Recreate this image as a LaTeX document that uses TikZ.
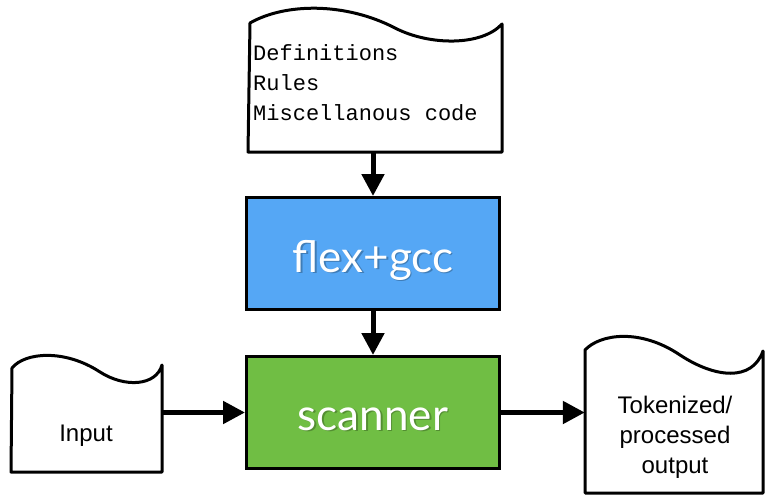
\documentclass[tikz,border=0pt]{standalone}
\usepackage{fontspec}
\setmainfont{Liberation Sans}
\newfontfamily\monof{Liberation Mono}
\newfontfamily\boxf{Lato}
\usetikzlibrary{arrows.meta}
\definecolor{flexblue}{RGB}{85,167,245}
\definecolor{scangreen}{RGB}{112,190,68}
\tikzset{
  docline/.style={line width=3pt, line join=round, fill=white},
  procbox/.style={draw=black, line width=3pt, minimum width=253pt, minimum height=112pt, inner sep=0pt},
  boxtext/.style={text=white, font=\boxf\fontsize{44}{50}\selectfont},
  shadowtext/.style={text=black, opacity=0.25, font=\boxf\fontsize{44}{50}\selectfont},
  codetext/.style={anchor=base west, font=\monof\fontsize{22}{30}\selectfont, inner sep=0pt},
  doctext/.style={anchor=base, font=\fontsize{24}{30}\selectfont, inner sep=0pt},
  arr/.style={line width=5pt, -{Triangle[length=22pt,width=22pt]}},
  ghost/.style={draw=none, inner sep=0pt}
}
\begin{document}
\begin{tikzpicture}[x=1pt,y=-1pt]
\useasboundingbox (0,0) rectangle (766,495);
% top document
\draw[docline] (250,23) .. controls (285,3) and (345,2) .. (395,28) .. controls (430,46) and (482,46) .. (502,24) -- (502,152) -- (248,152) -- cycle;
\node[ghost, minimum width=254pt, minimum height=128pt] (defs) at (375,88) {};
\node[codetext] (defs1) at (253,60) {Definitions};
\node[codetext] (defs2) at (253,90) {Rules};
\node[codetext] (defs3) at (253,120) {Miscellanous code};
% input document
\draw[docline] (12,368) .. controls (25,352) and (65,349) .. (100,372) .. controls (125,388) and (156,386) .. (162,365) -- (162,472) -- (11,472) -- cycle;
\node[ghost, minimum width=151pt, minimum height=104pt] (input) at (86.5,420) {};
\node[doctext] (inputtext) at (86,441) {Input};
% output document
\draw[docline] (585,350) .. controls (600,334) and (640,328) .. (680,355) .. controls (715,378) and (752,382) .. (763,351) -- (763,493) -- (585,493) -- cycle;
\node[ghost, minimum width=178pt, minimum height=143pt] (output) at (674,421.5) {};
\node[doctext] (out1) at (675,413) {Tokenized/};
\node[doctext] (out2) at (675,443) {processed};
\node[doctext] (out3) at (675,473) {output};
% boxes
\node[procbox, fill=flexblue] (flex) at (373,253.5) {};
\node[shadowtext, anchor=base] at (374.5,273.5) {flex+gcc};
\node[boxtext, anchor=base] (flextext) at (373,272) {flex+gcc};
\node[procbox, fill=scangreen] (scanner) at (373,412.5) {};
\node[shadowtext, anchor=base] at (374.5,431.5) {scanner};
\node[boxtext, anchor=base] (scantext) at (373,430) {scanner};
% arrows
\draw[arr] (flex.north |- defs.south) -- (flex.north);
\draw[arr] (flex.south) -- (scanner.north);
\draw[arr] (input.east |- scanner.west) -- (scanner.west);
\draw[arr] (scanner.east) -- (output.west |- scanner.east);
\end{tikzpicture}
\end{document}
